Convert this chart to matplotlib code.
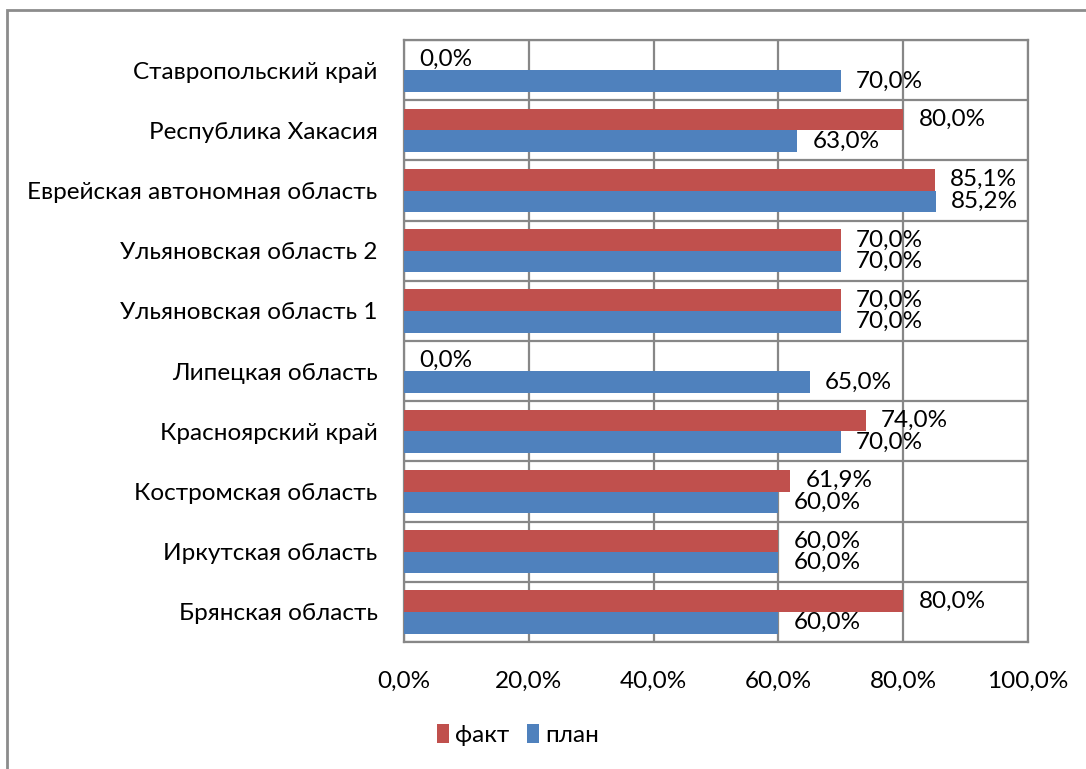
import numpy as np
import matplotlib.pyplot as plt
from matplotlib.patches import Rectangle

plt.rcParams['font.family'] = ['Lato', 'DejaVu Sans']

# bottom to top
regions = ["Брянская область", "Иркутская область", "Костромская область",
           "Красноярский край", "Липецкая область", "Ульяновская область 1",
           "Ульяновская область 2", "Еврейская автономная область",
           "Республика Хакасия", "Ставропольский край"]
fact = [80.0, 60.0, 61.9, 74.0, 0.0, 70.0, 70.0, 85.1, 80.0, 0.0]
plan = [60.0, 60.0, 60.0, 70.0, 65.0, 70.0, 70.0, 85.2, 63.0, 70.0]
xticks = [0, 20, 40, 60, 80, 100]

red = '#C0504D'
blue = '#4F81BD'
grid_c = '#878787'
fs = 17.5


def pct(v):
    return f"{v:.1f}%".replace('.', ',')


fig = plt.figure(figsize=(10.86, 7.69), dpi=100)
ax = fig.add_axes([404/1086, 1 - 642/769, (1028 - 404)/1086, (642 - 40)/769])

y = np.arange(len(regions))
h = 0.36
b_fact = ax.barh(y + h/2, fact, height=h, color=red, label='факт', zorder=3)
b_plan = ax.barh(y - h/2, plan, height=h, color=blue, label='план', zorder=3)
ax.bar_label(b_fact, labels=[pct(v) for v in fact], padding=11, fontsize=fs)
ax.bar_label(b_plan, labels=[pct(v) for v in plan], padding=11, fontsize=fs)

ax.set_xlim(0, 100)
ax.set_ylim(-0.5, len(regions) - 0.5)
ax.set_xticks(xticks)
ax.set_xticklabels([pct(v) for v in xticks], fontsize=fs)
ax.set_yticks(y)
ax.set_yticklabels(regions, fontsize=fs)
ax.tick_params(axis='x', length=0, pad=21)
ax.tick_params(axis='y', length=0, pad=19)

for v in xticks:
    ax.axvline(v, color=grid_c, lw=1.6, zorder=1)
for k in np.arange(-0.5, len(regions), 1.0):
    ax.axhline(k, color=grid_c, lw=1.6, zorder=1)
for s in ax.spines.values():
    s.set_color(grid_c)
    s.set_linewidth(1.6)

fig.legend(handles=[b_fact, b_plan], loc='center',
           bbox_to_anchor=(518/1086, 1 - 735/769), ncol=2, frameon=False,
           fontsize=fs, handlelength=0.5, handleheight=0.8,
           handletextpad=0.25, columnspacing=0.7)

# outer chart frame
fig.patches.append(Rectangle((7/1086, -0.1), 1.2, 1.1 - 10/769,
                             transform=fig.transFigure, fill=False,
                             edgecolor='#8c8c8c', lw=2))

fig.savefig('out.png', dpi=100)
